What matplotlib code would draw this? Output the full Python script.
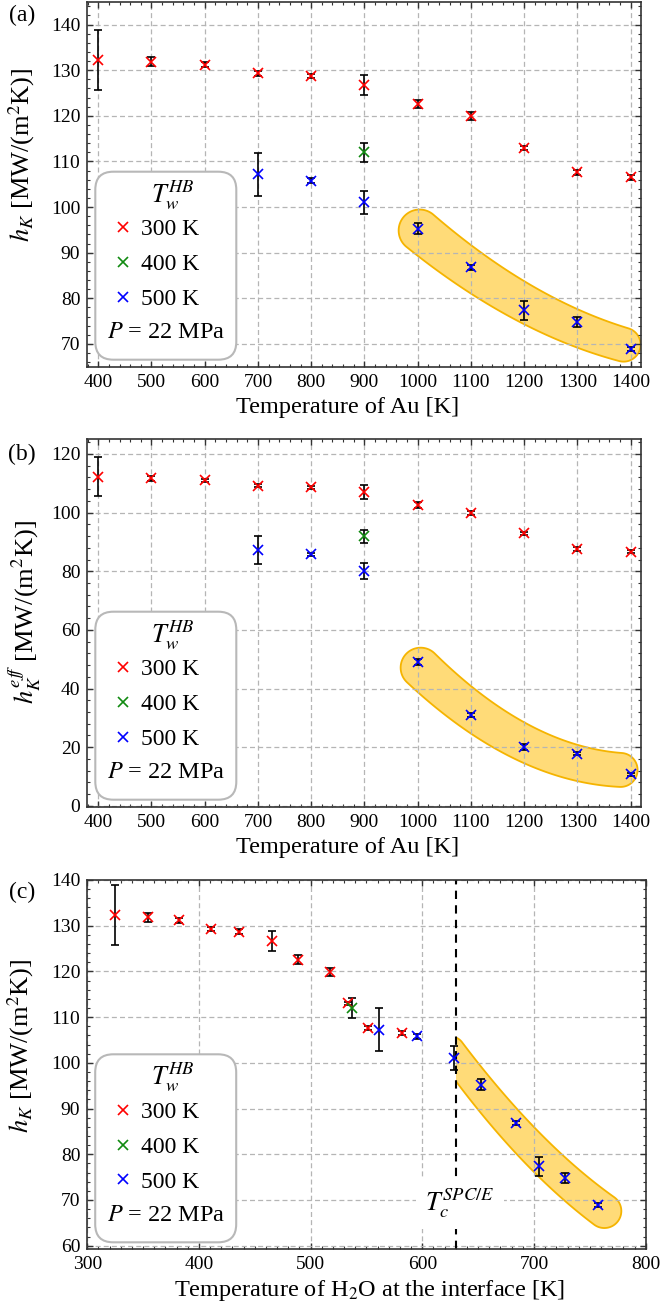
import numpy as np
import matplotlib
matplotlib.use('Agg')
import matplotlib.pyplot as plt
from matplotlib.ticker import MultipleLocator
from matplotlib.patches import FancyBboxPatch, Polygon, Rectangle
from matplotlib.lines import Line2D

plt.rcParams['font.family'] = 'serif'
plt.rcParams['font.serif'] = ['Liberation Serif', 'DejaVu Serif']
plt.rcParams['mathtext.fontset'] = 'stix'

# ---- data ----
t_au_300 = np.array([400, 500, 600, 700, 800, 900, 1000, 1100, 1200, 1300, 1400])
t_au_400 = np.array([900])
t_au_500 = np.array([700, 800, 900, 1000, 1100, 1200, 1300, 1400])

hk_300 = np.array([132.3, 131.8, 131.2, 129.3, 128.7, 126.7, 122.6, 119.9, 113.0, 107.6, 106.5])
hk_300_err = np.array([6.6, 1.0, 0.5, 0.5, 0.5, 2.2, 0.95, 0.9, 0.4, 0.5, 0.5])
hk_400 = np.array([112.0])
hk_400_err = np.array([2.1])
hk_500 = np.array([107.2, 105.8, 101.0, 95.2, 86.8, 77.4, 74.9, 68.9])
hk_500_err = np.array([4.7, 0.5, 2.6, 1.2, 0.5, 2.1, 1.1, 0.5])

heff_300 = np.array([112.3, 111.7, 111.1, 109.2, 108.7, 106.9, 102.6, 99.9, 92.9, 87.6, 86.6])
heff_300_err = np.array([6.6, 0.8, 0.5, 0.5, 0.5, 2.35, 0.9, 0.8, 0.5, 0.6, 0.5])
heff_400 = np.array([91.9])
heff_400_err = np.array([2.2])
heff_500 = np.array([87.2, 85.8, 80.1, 49.1, 31.0, 20.2, 17.8, 10.7])
heff_500_err = np.array([4.7, 0.5, 2.6, 1.0, 0.6, 1.0, 0.6, 0.6])

# water temperature at the interface for the same runs
t_w_300 = np.array([324.6, 354.2, 382.2, 411.0, 435.6, 465.5, 488.6, 517.0, 533.3, 551.1, 581.8])
t_w_400 = np.array([537.5])
t_w_500 = np.array([561.0, 595.5, 628.2, 652.3, 683.8, 704.7, 727.6, 757.6])
T_c = 630.0

labels = ['300 K', '400 K', '500 K']
colors = ['#ff0000', '#108a10', '#0000ff']

W, H = 661, 1303
fig = plt.figure(figsize=(W / 100, H / 100), dpi=100)


def px_axes(l, r, t, b):
    return fig.add_axes([l / W, 1 - b / H, (r - l) / W, (b - t) / H])


ax_a = px_axes(87.3, 640.7, 1.7, 366.7)
ax_b = px_axes(87.3, 640.7, 439.3, 806.7)
ax_c = px_axes(87.2, 645.7, 880.0, 1249.3)


def style(ax, xlim, ylim, xmaj, xmin, ymaj, ymin):
    ax.set_xlim(*xlim)
    ax.set_ylim(*ylim)
    ax.xaxis.set_major_locator(MultipleLocator(xmaj))
    ax.xaxis.set_minor_locator(MultipleLocator(xmin))
    ax.yaxis.set_major_locator(MultipleLocator(ymaj))
    ax.yaxis.set_minor_locator(MultipleLocator(ymin))
    ax.set_axisbelow(True)
    ax.grid(True, which='major', ls=(0, (4, 2.5)), color='#b5b5b5', lw=0.9)
    ax.tick_params(which='both', direction='in', top=True, right=True,
                   labelsize=14, color='#333333')
    ax.tick_params(which='major', length=4, width=1.0, pad=5)
    ax.tick_params(which='minor', length=2.3, width=0.8)
    for s in ax.spines.values():
        s.set_color('#333333')
        s.set_linewidth(1.2)


def series(ax, x, y, e, c):
    ax.errorbar(x, y, yerr=e, fmt='none', ecolor='k', elinewidth=1.2,
                capsize=3.2, capthick=1.2, zorder=2)
    ax.plot(x, y, 'x', color=c, ms=6.5, mew=1.2, zorder=3)


def band(ax, x, y, r0, r1, ext0=0.0, ext1=0.0, deg=2, cut_left=None):
    # smooth highlight around the given points, built in pixel space
    pts = ax.transData.transform(np.column_stack([x, y]))
    k = np.polyfit(pts[:, 0], pts[:, 1], deg)
    xs = np.linspace(pts[0, 0] - ext0, pts[-1, 0] + ext1, 200)
    c = np.column_stack([xs, np.polyval(k, xs)])
    t = np.gradient(c, axis=0)
    t /= np.hypot(t[:, 0], t[:, 1])[:, None]
    nr = np.column_stack([-t[:, 1], t[:, 0]])
    s = np.r_[0, np.cumsum(np.hypot(*np.diff(c, axis=0).T))]
    s /= s[-1]
    r = r0 + (r1 - r0) * s
    up = c + r[:, None] * nr
    lo = c - r[:, None] * nr
    th1 = np.arctan2(nr[-1, 1], nr[-1, 0])
    a1 = np.linspace(th1, th1 - np.pi, 40)
    cap1 = c[-1] + r1 * np.column_stack([np.cos(a1), np.sin(a1)])
    th0 = np.arctan2(nr[0, 1], nr[0, 0])
    a0 = np.linspace(th0 + np.pi, th0, 40)
    cap0 = c[0] + r0 * np.column_stack([np.cos(a0), np.sin(a0)])
    poly = np.vstack([up, cap1, lo[::-1], cap0])
    poly = ax.transData.inverted().transform(poly)
    p = Polygon(poly, closed=True, facecolor='#ffdb78', edgecolor='#f5b400',
                lw=1.3, zorder=0.3)
    ax.add_patch(p)
    if cut_left is not None:
        clip = Rectangle((cut_left, -1e3), 1e4, 1e4, transform=ax.transData)
        p.set_clip_path(clip)


def legend_box(ax):
    bb = ax.get_position()
    aw, ah = bb.width * W, bb.height * H
    box = FancyBboxPatch((8 / aw, 7 / ah), 141 / aw, 188 / ah,
                         boxstyle='round,pad=0,rounding_size=%f' % (18 / aw),
                         mutation_aspect=aw / ah, transform=ax.transAxes,
                         facecolor='white', edgecolor='#b8b8b8', lw=1.5, zorder=5)
    ax.add_patch(box)
    hs = [Line2D([], [], ls='none', marker='x', color=c, ms=7.5, mew=1.2) for c in colors]
    fs = 17
    fpx = fs * 100 / 72
    hl = 1.0
    left = 36 - 0.5 * hl * fpx
    leg = ax.legend(hs, labels, loc='center left', frameon=False, fontsize=fs,
                    bbox_to_anchor=(left / aw, 102.3 / ah), borderpad=0,
                    borderaxespad=0, handlelength=hl,
                    handletextpad=(53.4 - left - hl * fpx) / fpx,
                    labelspacing=0.56)
    leg.set_zorder(6)
    ax.text(85.7 / aw, 171.5 / ah, r'$T_w^{HB}$', transform=ax.transAxes,
            ha='center', va='center', fontsize=19, zorder=7)
    ax.text(79 / aw, 34 / ah, r'$P$ = 22 MPa', transform=ax.transAxes,
            ha='center', va='center', fontsize=17.5, zorder=7)


def labels_xy(ax, xl, yl, xpos, ypos, ycx):
    bb = ax.get_position()
    ah = bb.height * H
    aw = bb.width * W
    ax.set_xlabel(xl, fontsize=17.5)
    ax.xaxis.label.set_va('center')
    ax.xaxis.set_label_coords(xpos, -41 / ah)
    ax.set_ylabel(yl, fontsize=19)
    ax.yaxis.label.set_va('center')
    ax.yaxis.set_label_coords(ycx / aw, ypos)


# ---- (a) ----
style(ax_a, (379.5, 1419), (65, 145), 100, 20, 10, 2)
series(ax_a, t_au_300, hk_300, hk_300_err, colors[0])
series(ax_a, t_au_400, hk_400, hk_400_err, colors[1])
series(ax_a, t_au_500, hk_500, hk_500_err, colors[2])
m = t_au_500 >= 1000
band(ax_a, t_au_500[m], hk_500[m], 21, 17, ext0=-2, ext1=-7)
legend_box(ax_a)
labels_xy(ax_a, 'Temperature of Au [K]', r'$h_K$ [MW/(m$^2$K)]', 0.47, 0.58, -66)

# ---- (b) ----
style(ax_b, (379.5, 1419), (-0.3, 125), 100, 20, 20, 4)
series(ax_b, t_au_300, heff_300, heff_300_err, colors[0])
series(ax_b, t_au_400, heff_400, heff_400_err, colors[1])
series(ax_b, t_au_500, heff_500, heff_500_err, colors[2])
band(ax_b, t_au_500[m], heff_500[m], 20, 17, ext0=-3, ext1=-10)
legend_box(ax_b)
labels_xy(ax_b, 'Temperature of Au [K]', r'$h_K^{e\,f\!f}$ [MW/(m$^2$K)]', 0.47, 0.53, -63)

# ---- (c) ----
style(ax_c, (300, 800), (59.2, 140), 100, 10, 10, 2)
series(ax_c, t_w_300, hk_300, hk_300_err, colors[0])
series(ax_c, t_w_400, hk_400, hk_400_err, colors[1])
series(ax_c, t_w_500, hk_500, hk_500_err, colors[2])
mc = t_w_500 >= T_c - 5
band(ax_c, t_w_500[mc], hk_500[mc], 14, 17, ext0=3, ext1=6, deg=2, cut_left=T_c)
ax_c.axvline(T_c, color='k', ls=(0, (4, 3)), lw=1.5, zorder=1.5)
ax_c.text(633.8, 69.3, r'$T_c^{SPC/E}$', ha='center', va='center', fontsize=19,
          zorder=4, bbox=dict(boxstyle='square,pad=0.35', fc='white', ec='none'))
legend_box(ax_c)
labels_xy(ax_c, 'Temperature of H$_2$O at the interface [K]', r'$h_K$ [MW/(m$^2$K)]',
          0.506, 0.55, -66)

for lab, yy in [('(a)', 15), ('(b)', 454), ('(c)', 892)]:
    fig.text(22 / W, 1 - yy / H, lab, ha='center', va='center', fontsize=17)

fig.savefig('out.png', dpi=100)
